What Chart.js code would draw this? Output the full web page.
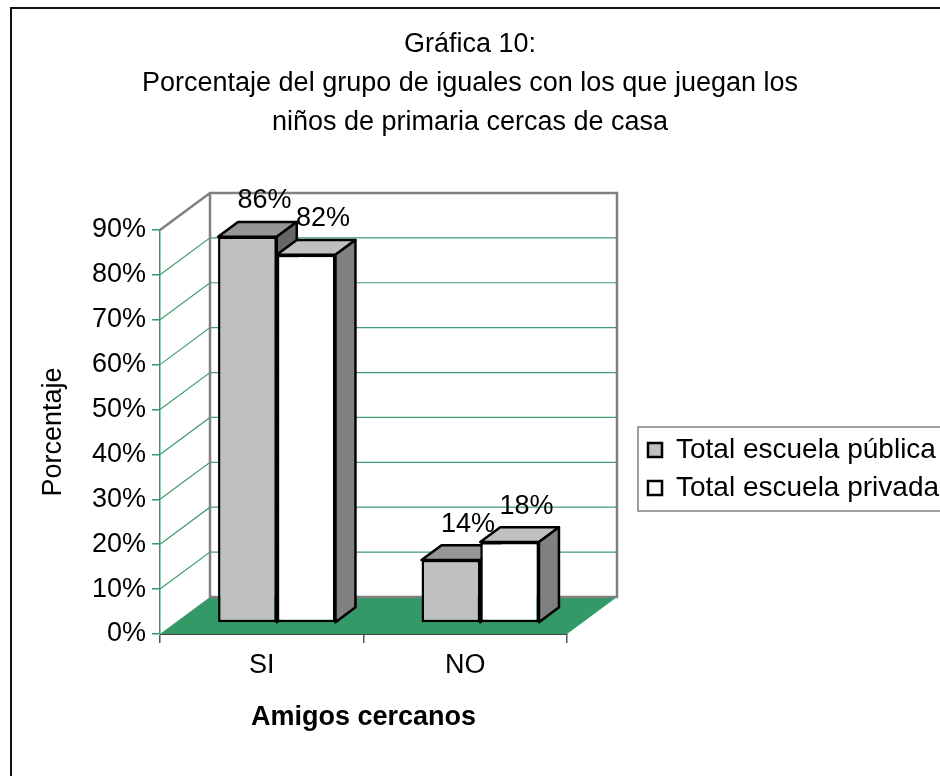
<!DOCTYPE html>
<html>
<head>
<meta charset="utf-8">
<script src="https://cdn.jsdelivr.net/npm/chart.js@4.4.1/dist/chart.umd.min.js"></script>
<style>
  html, body { margin: 0; padding: 0; background: #fff; overflow: hidden; }
</style>
</head>
<body>
<canvas id="grafica10" width="940" height="776"></canvas>
<script>
const categories = ['SI', 'NO'];
const publica = [86, 14];
const privada = [82, 18];
const seriesNames = ['Total escuela pública', 'Total escuela privada'];
const titleLines = [
  'Gráfica 10:',
  'Porcentaje del grupo de iguales con los que juegan los',
  'niños de primaria cercas de casa'
];

const FONT = '"Liberation Sans", Arial, sans-serif';
const DX = 50, DY = 37;      // depth of the 3d plot box
const GAP = 0.3, BAR_D = 0.4; // bar position / thickness inside the depth
const LABEL_DX = 17, LABEL_DY = 36;

Chart.defaults.font.family = FONT;
Chart.defaults.color = '#000';

function poly(ctx, pts) {
  ctx.beginPath();
  ctx.moveTo(pts[0][0], pts[0][1]);
  for (let i = 1; i < pts.length; i++) ctx.lineTo(pts[i][0], pts[i][1]);
  ctx.closePath();
  ctx.fill();
  ctx.stroke();
}

const box3d = {
  id: 'box3d',
  beforeDraw(chart) {
    const ctx = chart.ctx;
    ctx.save();
    ctx.fillStyle = '#fff';
    ctx.fillRect(0, 0, chart.width, chart.height);
    ctx.restore();
  },
  afterLayout(chart) {
    // put the legend beside the plot, like the excel one
    const lg = chart.legend;
    lg.left = 638; lg.right = 990; lg.top = 426; lg.bottom = 540;
    lg.width = lg.right - lg.left; lg.height = lg.bottom - lg.top;
  },
  beforeDatasetsDraw(chart) {
    const ctx = chart.ctx, a = chart.chartArea, y = chart.scales.y;
    const L = a.left, R = a.right, B = a.bottom;
    const T = y.getPixelForValue(y.max);
    ctx.save();
    // floor
    ctx.fillStyle = '#339966';
    ctx.beginPath();
    ctx.moveTo(L, B); ctx.lineTo(R, B); ctx.lineTo(R + DX, B - DY); ctx.lineTo(L + DX, B - DY);
    ctx.closePath();
    ctx.fill();
    // grid lines on side and back wall
    ctx.strokeStyle = '#3f9f70';
    ctx.lineWidth = 1.2;
    y.ticks.forEach(t => {
      if (t.value <= y.min || t.value >= y.max) return;
      const py = y.getPixelForValue(t.value);
      ctx.beginPath();
      ctx.moveTo(L, py); ctx.lineTo(L + DX, py - DY); ctx.lineTo(R + DX, py - DY);
      ctx.stroke();
    });
    // wall edges
    ctx.strokeStyle = '#808080';
    ctx.lineWidth = 2.5;
    ctx.beginPath();
    ctx.moveTo(L, T); ctx.lineTo(L + DX, T - DY); ctx.lineTo(R + DX, T - DY);
    ctx.lineTo(R + DX, B - DY); ctx.lineTo(L + DX, B - DY); ctx.lineTo(L + DX, T - DY);
    ctx.stroke();
    ctx.restore();

    // tops and sides of all bars first, chart.js then paints the fronts
    // in the same shifted space (restored in afterDatasetsDraw)
    const bx = DX * BAR_D, by = DY * BAR_D;
    ctx.save();
    ctx.translate(DX * GAP, -DY * GAP);
    ctx.save();
    ctx.lineWidth = 2.5;
    ctx.strokeStyle = '#000';
    ctx.lineJoin = 'round';
    chart.data.datasets.forEach((ds, i) => {
      chart.getDatasetMeta(i).data.forEach(bar => {
        const {x, y: top, base, width} = bar.getProps(['x', 'y', 'base', 'width'], true);
        const l = x - width / 2, r = x + width / 2;
        ctx.fillStyle = ds.topColor;
        poly(ctx, [[l, top], [l + bx, top - by], [r + bx, top - by], [r, top]]);
        ctx.fillStyle = ds.sideColor;
        poly(ctx, [[r, top], [r + bx, top - by], [r + bx, base - by], [r, base]]);
      });
    });
    ctx.restore();
  },
  afterDatasetsDraw(chart) {
    const ctx = chart.ctx;
    ctx.restore();
    ctx.save();
    ctx.font = '27px ' + FONT;
    ctx.fillStyle = '#000';
    ctx.textAlign = 'center';
    ctx.textBaseline = 'middle';
    chart.data.datasets.forEach((ds, i) => {
      chart.getDatasetMeta(i).data.forEach((bar, j) => {
        ctx.fillText(ds.data[j] + '%', bar.x + DX * GAP + LABEL_DX, bar.y - DY * GAP - LABEL_DY);
      });
    });
    ctx.restore();
  },
  afterDraw(chart) {
    const ctx = chart.ctx;
    ctx.save();
    ctx.strokeStyle = '#808080';
    ctx.lineWidth = 1.5;
    ctx.strokeRect(638, 427, 400, 84);
    ctx.strokeStyle = '#111';
    ctx.lineWidth = 2;
    ctx.strokeRect(11, 8, 1100, 1100);
    ctx.restore();
  }
};

new Chart(document.getElementById('grafica10'), {
  type: 'bar',
  data: {
    labels: categories,
    datasets: [
      {
        label: seriesNames[0], data: publica,
        backgroundColor: '#C0C0C0', topColor: '#969696', sideColor: '#666666',
        borderColor: '#000', borderWidth: 2.5, borderSkipped: false, clip: false,
        categoryPercentage: 0.577, barPercentage: 1
      },
      {
        label: seriesNames[1], data: privada,
        backgroundColor: '#FFFFFF', topColor: '#C0C0C0', sideColor: '#808080',
        borderColor: '#000', borderWidth: 2.5, borderSkipped: false, clip: false,
        categoryPercentage: 0.577, barPercentage: 1
      }
    ]
  },
  options: {
    responsive: false,
    animation: false,
    events: [],
    layout: { padding: 0 },
    plugins: {
      title: {
        display: true,
        text: titleLines,
        color: '#000',
        font: { size: 27, weight: 'normal', lineHeight: 1.444 },
        padding: { top: 25, bottom: 88 }
      },
      legend: {
        position: 'chartArea',
        align: 'start',
        labels: { boxWidth: 14, boxHeight: 14, padding: 10, color: '#000', font: { size: 28 } }
      },
      tooltip: { enabled: false }
    },
    scales: {
      x: {
        grid: { offset: true, drawOnChartArea: false, tickLength: 9, color: '#555', lineWidth: 1.5 },
        border: { display: true, color: '#444', width: 1 },
        ticks: { font: { size: 27 }, color: '#000', padding: 6 },
        title: { display: true, text: 'Amigos cercanos', color: '#000', font: { size: 27, weight: 'bold' }, padding: { top: 0, bottom: 42 } },
        afterFit: s => { s.height = 142; }
      },
      y: {
        min: 0, max: 90,
        grid: { drawOnChartArea: false, tickLength: 8, color: '#339966', lineWidth: 1.5 },
        border: { display: true, color: '#339966', width: 1.5 },
        ticks: { stepSize: 10, font: { size: 27 }, color: '#000', padding: 6, callback: v => v + '%' },
        title: { display: true, text: 'Porcentaje', color: '#000', font: { size: 27 }, padding: { top: 37, bottom: 0 } },
        afterFit: s => { s.width = 160; }
      },
      yRight: {
        position: 'right', display: true,
        grid: { display: false }, border: { display: false }, ticks: { display: false },
        afterFit: s => { s.width = 373; }
      }
    }
  },
  plugins: [box3d]
});
</script>
</body>
</html>
